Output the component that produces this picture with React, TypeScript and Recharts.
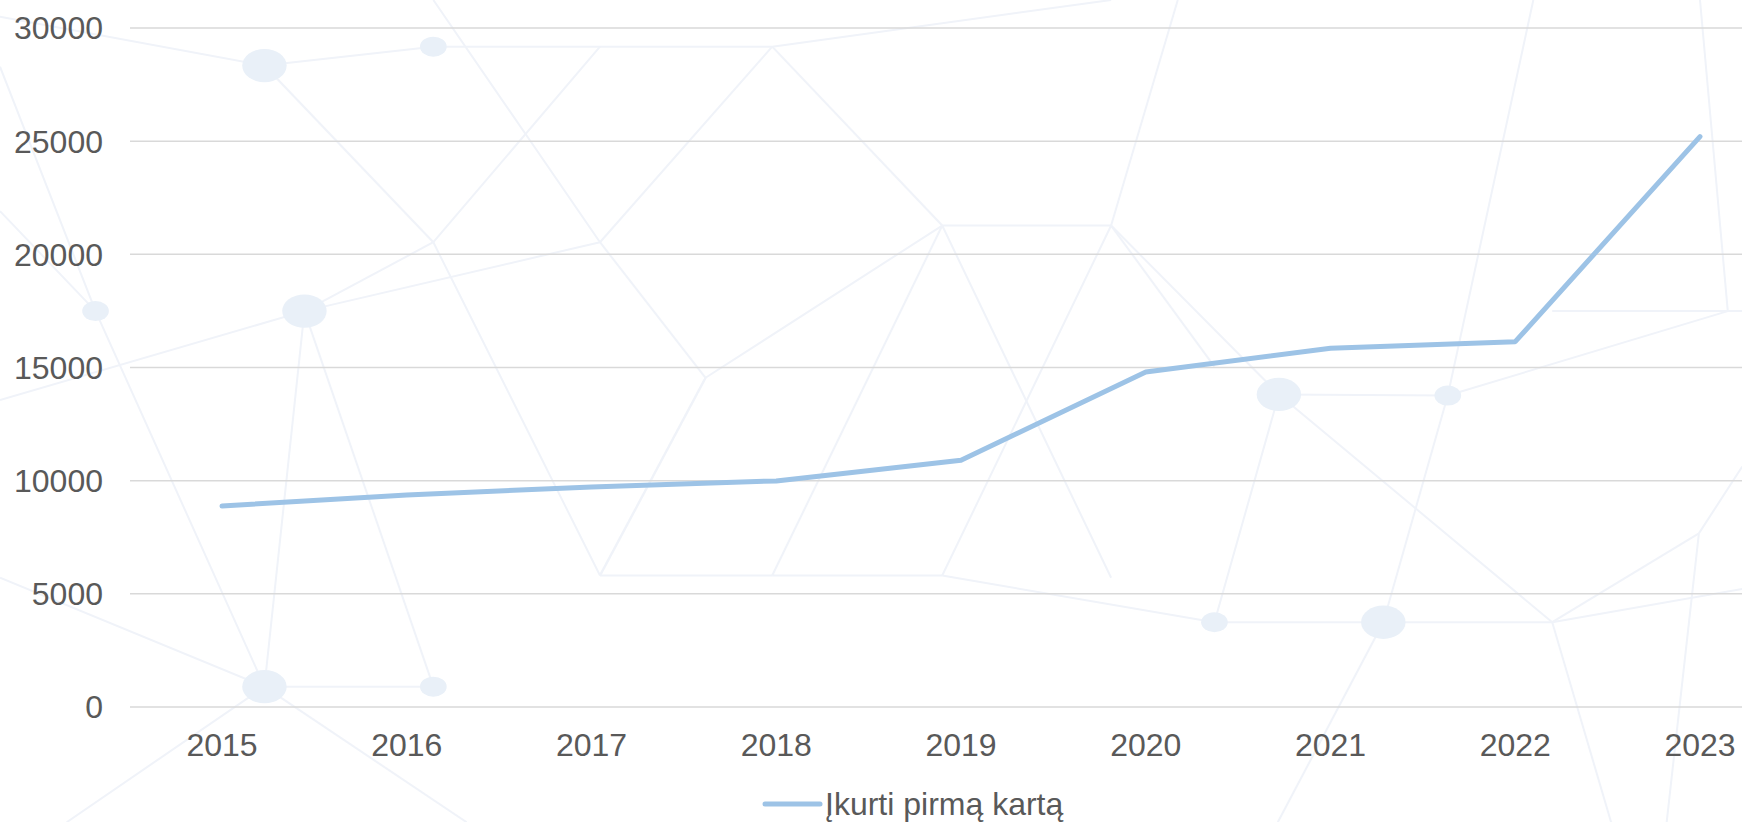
import { LineChart, Line, XAxis, YAxis, CartesianGrid, Legend } from "recharts"

const years = ["2015", "2016", "2017", "2018", "2019", "2020", "2021", "2022", "2023"]
const firstTime = [8880, 9370, 9720, 9990, 10900, 14800, 15850, 16140, 25200]
const yTicks = [0, 5000, 10000, 15000, 20000, 25000, 30000]
const seriesName = "Įkurti pirmą kartą"

const data = years.map((year, i) => ({ year, value: firstTime[i] }))

const FONT = '"Liberation Sans", Arial, sans-serif'
const LINE_COLOR = "#9dc3e6"
const TEXT_COLOR = "#595959"

// faint decorative mesh behind the chart (shrunk-image coords, scaled up)
const S = 1 / 0.9
const meshLines = [
  [0, 15, 238, 59], [238, 59, 390, 42], [390, 42, 540, 42], [540, 42, 695, 42], [695, 42, 1000, 0],
  [238, 59, 390, 218], [390, 218, 540, 518], [540, 518, 695, 518], [695, 518, 848, 518],
  [848, 518, 1093, 560], [1093, 560, 1245, 560], [1245, 560, 1397, 560], [1397, 560, 1568, 530],
  [390, 0, 540, 218], [540, 218, 635, 340], [635, 340, 848, 203], [848, 203, 1000, 203],
  [0, 360, 274, 280], [274, 280, 540, 218], [86, 280, 0, 190], [86, 280, 238, 618],
  [274, 280, 238, 618], [274, 280, 390, 618], [238, 618, 390, 618], [0, 520, 238, 618],
  [238, 618, 420, 740], [238, 618, 60, 740], [390, 218, 274, 280], [540, 42, 390, 218],
  [695, 42, 540, 218], [695, 42, 848, 203], [848, 203, 1000, 520], [1000, 203, 1151, 355],
  [1151, 355, 1303, 356], [1303, 356, 1555, 280], [1151, 355, 1093, 560], [1151, 355, 1397, 560],
  [1245, 560, 1303, 356], [1303, 356, 1380, 0], [1245, 560, 1150, 740], [1397, 560, 1529, 480],
  [1529, 480, 1568, 420], [1397, 280, 1568, 280], [1555, 280, 1530, 0], [1000, 203, 1060, 0],
  [540, 518, 635, 340], [695, 518, 848, 203], [848, 518, 1000, 203], [1529, 480, 1500, 740],
  [635, 340, 540, 518], [0, 60, 86, 280], [1093, 330, 1000, 203], [1397, 560, 1450, 740],
]
const meshNodes = [
  [238, 59, 20, 15], [390, 42, 12, 9], [86, 280, 12, 9], [274, 280, 20, 15],
  [238, 618, 20, 15], [390, 618, 12, 9], [1151, 355, 20, 15], [1303, 356, 12, 9],
  [1093, 560, 12, 9], [1245, 560, 20, 15],
]

const Background = () => (
  <svg width={1742} height={822} style={{ position: "absolute", left: 0, top: 0 }}>
    {meshLines.map(([x1, y1, x2, y2], i) => (
      <line key={i} x1={x1 * S} y1={y1 * S} x2={x2 * S} y2={y2 * S} stroke="#f0f3f9" strokeWidth={2} />
    ))}
    {meshNodes.map(([cx, cy, rx, ry], i) => (
      <ellipse key={i} cx={cx * S} cy={cy * S} rx={rx * S} ry={ry * S} fill="#e9f0f8" />
    ))}
  </svg>
)

const renderLegend = () => (
  <div style={{ display: "flex", alignItems: "center", height: 36, lineHeight: "36px" }}>
    <svg width={61} height={10}>
      <line x1={3} y1={5} x2={58} y2={5} stroke={LINE_COLOR} strokeWidth={5} strokeLinecap="round" />
    </svg>
    <span style={{ fontSize: 32, color: TEXT_COLOR, fontFamily: FONT, marginLeft: 2 }}>{seriesName}</span>
  </div>
)

export default function App() {
  return (
    <div
      style={{
        position: "absolute",
        left: 0,
        top: 0,
        width: 1742,
        height: 822,
        overflow: "hidden",
        background: "#ffffff",
      }}
    >
      <Background />
      <div style={{ position: "absolute", left: 0, top: 0 }}>
        <LineChart width={1800} height={822} data={data} margin={{ top: 28, right: 8, bottom: 0, left: 0 }}>
          <CartesianGrid vertical={false} stroke="#d9d9d9" strokeWidth={1.5} />
          <XAxis
            dataKey="year"
            axisLine={false}
            tickLine={false}
            tickSize={0}
            tickMargin={26}
            height={79}
            interval={0}
            padding={{ left: 92, right: 92 }}
            tick={{ fill: TEXT_COLOR, fontSize: 32, fontFamily: FONT }}
          />
          <YAxis
            domain={[0, 30000]}
            ticks={yTicks}
            width={130}
            axisLine={false}
            tickLine={false}
            tickSize={0}
            tickMargin={27}
            tick={{ fill: TEXT_COLOR, fontSize: 32, fontFamily: FONT }}
          />
          <Legend
            verticalAlign="bottom"
            content={renderLegend}
            wrapperStyle={{ left: 762, width: "auto", height: 36 }}
          />
          <Line
            type="linear"
            dataKey="value"
            name={seriesName}
            stroke={LINE_COLOR}
            strokeWidth={5}
            strokeLinecap="round"
            strokeLinejoin="round"
            dot={false}
            activeDot={false}
            isAnimationActive={false}
          />
        </LineChart>
      </div>
    </div>
  )
}
